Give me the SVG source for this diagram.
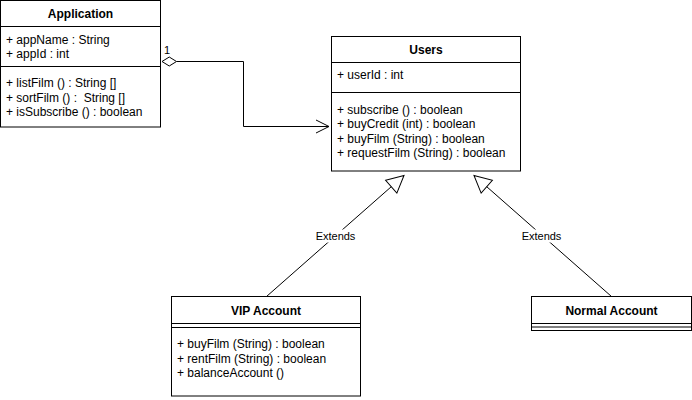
<svg xmlns="http://www.w3.org/2000/svg" width="692" height="400" viewBox="0 0 692 400">
  <style>
    .box { fill: #ffffff; stroke: #000000; stroke-width: 1; }
    .sep { stroke: #000000; stroke-width: 1; fill: none; }
    .title { font-family: "Liberation Sans", Arial, sans-serif; font-size: 12px; font-weight: bold; fill: #000000; text-anchor: middle; }
    .member { font-family: "Liberation Sans", Arial, sans-serif; font-size: 12px; fill: #000000; white-space: pre; }
    .edge { fill: none; stroke: #000000; stroke-width: 1; }
    .elabel { font-family: "Liberation Sans", Arial, sans-serif; font-size: 11px; fill: #000000; }
    .lblbg { fill: #ffffff; stroke: none; }
  </style>
  <defs>
    <marker id="openArrow" markerUnits="userSpaceOnUse" markerWidth="16" markerHeight="16" refX="13" refY="6.5" orient="auto" overflow="visible">
      <path d="M0,0 L13,6.5 L0,13" fill="none" stroke="#000000" stroke-width="1"/>
    </marker>
    <marker id="diamond" markerUnits="userSpaceOnUse" markerWidth="16" markerHeight="10" refX="0" refY="4.5" orient="auto" overflow="visible">
      <path d="M0,4.5 L7.25,0 L14.5,4.5 L7.25,9 Z" fill="#ffffff" stroke="#000000" stroke-width="1"/>
    </marker>
    <marker id="hollowTri" markerUnits="userSpaceOnUse" markerWidth="20" markerHeight="20" refX="17" refY="8.5" orient="auto" overflow="visible">
      <path d="M0,0 L17,8.5 L0,17 Z" fill="#ffffff" stroke="#000000" stroke-width="1"/>
    </marker>
  </defs>

  <rect width="692" height="400" fill="#ffffff"/>

  <g id="connectors">
    <path class="edge" d="M243.5,61.5 L243.5,126.5 L329,126.5" marker-end="url(#openArrow)"/>
    <path class="edge" d="M176.5,61.5 L243.5,61.5"/>
    <path d="M162,61.5 L169.25,57 L176.5,61.5 L169.25,66 Z" fill="#ffffff" stroke="#000000" stroke-width="1"/>
    <text class="elabel" x="164" y="53.5">1</text>

    <path class="edge" d="M266.5,296.5 L404,175.5" marker-end="url(#hollowTri)"/>
    <rect class="lblbg" x="315" y="229.5" width="41" height="13"/>
    <text class="elabel" x="335.5" y="240" text-anchor="middle">Extends</text>

    <path class="edge" d="M611.5,296.5 L474,175.5" marker-end="url(#hollowTri)"/>
    <rect class="lblbg" x="521" y="229.5" width="41" height="13"/>
    <text class="elabel" x="541.5" y="240" text-anchor="middle">Extends</text>
  </g>

  <g id="Application">
    <rect class="box" x="0.5" y="0.5" width="160" height="126.5"/>
    <line class="sep" x1="0.5" y1="26.5" x2="160.5" y2="26.5"/>
    <line class="sep" x1="0.5" y1="66.5" x2="160.5" y2="66.5"/>
    <text class="title" x="80.5" y="18">Application</text>
    <text class="member" x="6" y="44">+ appName : String</text>
    <text class="member" x="6" y="58.4">+ appId : int</text>
    <text class="member" x="6" y="87.4">+ listFilm () : String []</text>
    <text class="member" x="6" y="101.8">+ sortFilm () :  String []</text>
    <text class="member" x="6" y="116.2">+ isSubscribe () : boolean</text>
  </g>

  <g id="Users">
    <rect class="box" x="331.5" y="36.5" width="189" height="134.5"/>
    <line class="sep" x1="331.5" y1="62.5" x2="520.5" y2="62.5"/>
    <line class="sep" x1="331.5" y1="92.5" x2="520.5" y2="92.5"/>
    <text class="title" x="426" y="53.5">Users</text>
    <text class="member" x="337" y="79">+ userId : int</text>
    <text class="member" x="337" y="114">+ subscribe () : boolean</text>
    <text class="member" x="337" y="128.4">+ buyCredit (int) : boolean</text>
    <text class="member" x="337" y="142.8">+ buyFilm (String) : boolean</text>
    <text class="member" x="337" y="157.2">+ requestFilm (String) : boolean</text>
  </g>

  <g id="VIPAccount">
    <rect class="box" x="171.5" y="296.5" width="189" height="99.5"/>
    <line class="sep" x1="171.5" y1="323.5" x2="360.5" y2="323.5"/>
    <line class="sep" x1="171.5" y1="327.5" x2="360.5" y2="327.5"/>
    <text class="title" x="266" y="315">VIP Account</text>
    <text class="member" x="177" y="348.3">+ buyFilm (String) : boolean</text>
    <text class="member" x="177" y="362.7">+ rentFilm (String) : boolean</text>
    <text class="member" x="177" y="377.1">+ balanceAccount ()</text>
  </g>

  <g id="NormalAccount">
    <rect class="box" x="531.5" y="296.5" width="160" height="34"/>
    <line class="sep" x1="531.5" y1="323.5" x2="691.5" y2="323.5"/>
    <line class="sep" x1="531.5" y1="327" x2="691.5" y2="327"/>
    <text class="title" x="611.5" y="315">Normal Account</text>
  </g>
</svg>
